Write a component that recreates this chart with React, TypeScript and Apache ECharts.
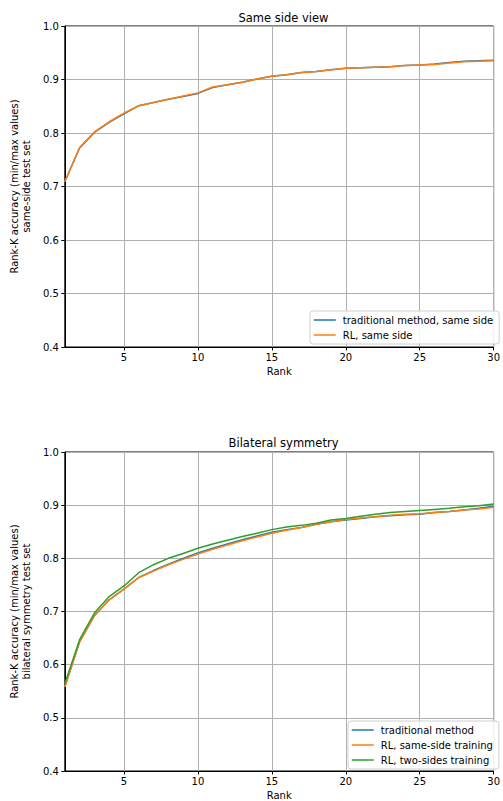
import React, { useEffect, useRef } from "react";
import * as echarts from "echarts";

const ranks = Array.from({ length: 30 }, (_, i) => i + 1);

const topTitle = "Same side view";
const bottomTitle = "Bilateral symmetry";
const topYName = "Rank-K accuracy (min/max values)\nsame-side test set";
const bottomYName = "Rank-K accuracy (min/max values)\nbilateral symmetry test set";
const xName = "Rank";

const topTraditional = [
  0.709, 0.772, 0.801, 0.820, 0.836, 0.851, 0.857, 0.863, 0.868, 0.874,
  0.885, 0.890, 0.895, 0.901, 0.906, 0.909, 0.913, 0.915, 0.918, 0.921,
  0.922, 0.923, 0.924, 0.926, 0.927, 0.929, 0.932, 0.934, 0.935, 0.936,
];
const topRL = [
  0.709, 0.773, 0.802, 0.821, 0.837, 0.851, 0.857, 0.863, 0.869, 0.875,
  0.886, 0.890, 0.895, 0.901, 0.906, 0.909, 0.913, 0.915, 0.918, 0.921,
  0.922, 0.923, 0.924, 0.926, 0.927, 0.928, 0.931, 0.933, 0.934, 0.935,
];

const botTraditional = [
  0.558, 0.643, 0.692, 0.722, 0.742, 0.764, 0.777, 0.789, 0.800, 0.810,
  0.819, 0.827, 0.835, 0.842, 0.849, 0.854, 0.858, 0.864, 0.869, 0.872,
  0.875, 0.878, 0.880, 0.882, 0.883, 0.886, 0.888, 0.891, 0.894, 0.898,
];
const botRLSame = [
  0.558, 0.643, 0.692, 0.722, 0.742, 0.764, 0.776, 0.788, 0.798, 0.808,
  0.817, 0.825, 0.833, 0.840, 0.847, 0.853, 0.858, 0.864, 0.869, 0.873,
  0.876, 0.878, 0.881, 0.883, 0.884, 0.886, 0.888, 0.891, 0.893, 0.896,
];
const botRLTwo = [
  0.564, 0.647, 0.697, 0.728, 0.748, 0.773, 0.788, 0.800, 0.809, 0.819,
  0.827, 0.834, 0.841, 0.847, 0.854, 0.859, 0.862, 0.866, 0.872, 0.875,
  0.879, 0.883, 0.886, 0.888, 0.890, 0.892, 0.894, 0.897, 0.899, 0.902,
];

const topNames = ["traditional method, same side", "RL, same side"];
const botNames = ["traditional method", "RL, same-side training", "RL, two-sides training"];

const C_BLUE = "#1f77b4";
const C_ORANGE = "#ff7f0e";
const C_GREEN = "#2ca02c";
const FONT = "DejaVu Sans";

function pairs(ys: number[]) {
  return ranks.map((r, i) => [r, ys[i]]);
}

function xAxisCfg(gridIndex: number) {
  return {
    type: "value",
    gridIndex,
    min: 1,
    max: 30,
    name: xName,
    nameLocation: "middle",
    nameGap: 19,
    nameTextStyle: { fontFamily: FONT, fontSize: 10, color: "#000" },
    axisLine: { show: true, onZero: false, lineStyle: { color: "#000", width: 1 } },
    axisTick: { show: true, length: 3.5, lineStyle: { color: "#000" } },
    axisLabel: {
      show: true,
      showMinLabel: false,
      fontFamily: FONT,
      fontSize: 10,
      color: "#000",
      margin: 5,
      formatter: (v: number) => (v === 1 ? "" : String(v)),
    },
    splitLine: { show: true, lineStyle: { color: "#b0b0b0", width: 1 } },
  };
}

function yAxisCfg(gridIndex: number, name: string) {
  return {
    type: "value",
    gridIndex,
    min: 0.4,
    max: 1.0,
    interval: 0.1,
    name,
    nameLocation: "middle",
    nameGap: 22,
    nameTextStyle: { fontFamily: FONT, fontSize: 10, color: "#000", lineHeight: 12 },
    axisLine: { show: true, lineStyle: { color: "#000", width: 1 } },
    axisTick: { show: true, length: 3.5, lineStyle: { color: "#000" } },
    axisLabel: {
      fontFamily: FONT,
      fontSize: 10,
      color: "#000",
      margin: 6,
      formatter: (v: number) => v.toFixed(1),
    },
    splitLine: { show: true, lineStyle: { color: "#b0b0b0", width: 1 } },
  };
}

function lineSeries(name: string, ys: number[], color: string, idx: number) {
  return {
    type: "line",
    name,
    xAxisIndex: idx,
    yAxisIndex: idx,
    data: pairs(ys),
    symbol: "none",
    showSymbol: false,
    lineStyle: { color, width: 1.5 },
    itemStyle: { color },
    z: 3,
  };
}

export default function App() {
  const ref = useRef<HTMLDivElement>(null);
  useEffect(() => {
    document.body.style.margin = "0";
    if (!ref.current) return;
    const chart = echarts.init(ref.current, null, { renderer: "svg" });
    const legendCommon = {
      orient: "vertical",
      backgroundColor: "rgba(255,255,255,0.85)",
      borderColor: "#d0d0d0",
      borderWidth: 1,
      borderRadius: 3,
      itemWidth: 22,
      itemHeight: 10,
      itemGap: 5,
      padding: [4, 6, 4, 3],
      itemStyle: { opacity: 0, borderWidth: 0 },
      lineStyle: { width: 1.5 },
      textStyle: { fontFamily: FONT, fontSize: 10, color: "#000", padding: [0, 0, 0, 2] },
    };
    chart.setOption({
      animation: false,
      backgroundColor: "#fff",
      title: [
        {
          text: topTitle,
          left: 278.5,
          top: 7,
          textAlign: "center",
          textStyle: { fontFamily: FONT, fontSize: 11.5, fontWeight: "normal", color: "#000" },
        },
        {
          text: bottomTitle,
          left: 278.5,
          top: 432,
          textAlign: "center",
          textStyle: { fontFamily: FONT, fontSize: 11.5, fontWeight: "normal", color: "#000" },
        },
      ],
      grid: [
        { left: 59, top: 26, width: 439, height: 321, show: true, borderColor: "#000", borderWidth: 1, backgroundColor: "transparent" },
        { left: 59, top: 452, width: 439, height: 321, show: true, borderColor: "#000", borderWidth: 1, backgroundColor: "transparent" },
      ],
      xAxis: [xAxisCfg(0), xAxisCfg(1)],
      yAxis: [yAxisCfg(0, topYName), yAxisCfg(1, bottomYName)],
      legend: [
        { ...legendCommon, data: topNames, left: 310, top: 311 },
        { ...legendCommon, data: botNames, left: 348, top: 721 },
      ],
      series: [
        lineSeries(topNames[0], topTraditional, C_BLUE, 0),
        lineSeries(topNames[1], topRL, C_ORANGE, 0),
        lineSeries(botNames[0], botTraditional, C_BLUE, 1),
        lineSeries(botNames[1], botRLSame, C_ORANGE, 1),
        lineSeries(botNames[2], botRLTwo, C_GREEN, 1),
      ],
    });
    return () => chart.dispose();
  }, []);
  return <div ref={ref} style={{ width: 503, height: 801 }} />;
}
